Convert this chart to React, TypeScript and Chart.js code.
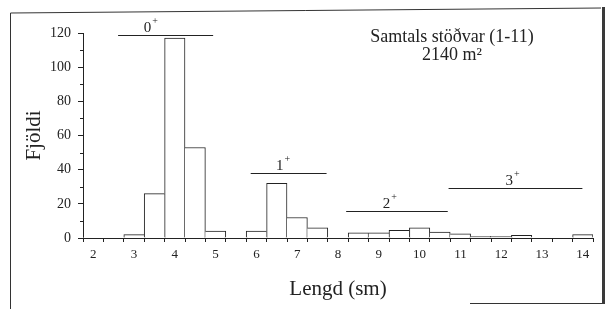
import React, { useEffect, useRef } from "react";
import { Chart, registerables } from "chart.js";

Chart.register(...registerables);

// Length bins (cm): each bin is 0.5 cm wide, labelled at integer values
const binCenters = [2, 2.5, 3, 3.5, 4, 4.5, 5, 5.5, 6, 6.5, 7, 7.5, 8, 8.5, 9, 9.5, 10, 10.5, 11, 11.5, 12, 12.5, 13, 13.5, 14];
const counts = [0, 0, 2, 26, 117, 53, 4, 0, 4, 32, 12, 6, 0, 3, 3, 4.5, 6, 3.5, 2.5, 1, 1, 1.5, 0, 0, 2];

const yTicks = [0, 20, 40, 60, 80, 100, 120];

// Age-group marker lines (in cm along x, count level along y)
const groupNames = ["0", "1", "2", "3"];
const groupStart = [2.61, 5.86, 8.2, 10.71];
const groupEnd = [4.94, 7.72, 10.69, 13.99];
const groupLevel = [118.7, 37.9, 16.0, 29.3];
const groupLabelX = [3.33, 6.57, 9.19, 12.2];

const titleLine1 = "Samtals stöðvar (1-11)";
const titleLine2 = "2140 m²";

const SERIF = '"Liberation Serif", "Times New Roman", serif';
const INK = "#222";

// convert a length in cm to a fractional category index
const cmToIndex = (cm: number) => (cm - binCenters[0]) / (binCenters[1] - binCenters[0]);

const decorPlugin = {
  id: "decor",
  afterDraw(chart: any) {
    const ctx = chart.ctx;
    const y = chart.scales.y;
    const x = chart.scales.x;
    ctx.save();
    // minor y ticks
    ctx.strokeStyle = INK;
    ctx.lineWidth = 1;
    for (let v = 10; v < 120; v += 20) {
      const py = Math.round(y.getPixelForValue(v)) + 0.5;
      ctx.beginPath();
      ctx.moveTo(y.right - 3, py);
      ctx.lineTo(y.right, py);
      ctx.stroke();
    }
    // group lines and labels with superscript plus
    ctx.fillStyle = INK;
    for (let i = 0; i < groupNames.length; i++) {
      const ly = Math.round(y.getPixelForValue(groupLevel[i])) + 0.5;
      ctx.beginPath();
      ctx.moveTo(x.getPixelForValue(cmToIndex(groupStart[i])), ly);
      ctx.lineTo(x.getPixelForValue(cmToIndex(groupEnd[i])), ly);
      ctx.stroke();
      const px = x.getPixelForValue(cmToIndex(groupLabelX[i]));
      const py = ly - 3.5;
      ctx.font = `15px ${SERIF}`;
      ctx.textAlign = "center";
      ctx.textBaseline = "alphabetic";
      ctx.fillText(groupNames[i], px, py);
      const w = ctx.measureText(groupNames[i]).width;
      ctx.font = `10px ${SERIF}`;
      ctx.textAlign = "left";
      ctx.fillText("+", px + w / 2 + 1, py - 8);
    }
    // annotation text
    ctx.font = `18px ${SERIF}`;
    ctx.textAlign = "center";
    ctx.fillText(titleLine1, 452, 42);
    ctx.fillText(titleLine2, 452, 60);
    // frame (scanned page border)
    ctx.strokeStyle = "#333";
    ctx.lineWidth = 1;
    ctx.beginPath();
    ctx.moveTo(10.5, 13);
    ctx.lineTo(601, 8);
    ctx.moveTo(10.5, 13);
    ctx.lineTo(10.5, 309);
    ctx.moveTo(470, 303.5);
    ctx.lineTo(602, 303.5);
    ctx.stroke();
    ctx.fillStyle = "#3a3a3a";
    ctx.fillRect(602, 7, 3, 297);
    ctx.restore();
  },
};

export default function App() {
  const ref = useRef<HTMLCanvasElement | null>(null);
  useEffect(() => {
    document.body.style.margin = "0";
    const canvas = ref.current;
    if (!canvas) return;
    const chart = new Chart(canvas, {
      type: "bar",
      data: {
        labels: binCenters.map(String),
        datasets: [
          {
            data: counts,
            backgroundColor: "#fff",
            borderColor: INK,
            borderSkipped: false,
            categoryPercentage: 1,
            barPercentage: 1,
            borderWidth: (c: any) => {
              const i = c.dataIndex;
              const v = counts[i];
              if (!v) return 0;
              const prev = i > 0 ? counts[i - 1] : 0;
              const next = i < counts.length - 1 ? counts[i + 1] : 0;
              return { top: 1, bottom: 0, left: prev < v ? 1 : 0, right: next <= v ? 1 : 0 };
            },
          } as any,
        ],
      },
      options: {
        responsive: false,
        animation: false,
        layout: { padding: { top: 33, right: 13, bottom: 0, left: 0 } },
        plugins: { legend: { display: false }, tooltip: { enabled: false } },
        scales: {
          x: {
            type: "category",
            offset: true,
            grid: { offset: true, drawOnChartArea: false, drawTicks: true, tickLength: 4, color: INK },
            border: { display: true, color: INK, width: 1 },
            ticks: {
              autoSkip: false,
              maxRotation: 0,
              minRotation: 0,
              padding: 5,
              color: INK,
              font: { family: SERIF, size: 13 },
              callback: (_v: any, i: number) => (Number.isInteger(binCenters[i]) ? String(binCenters[i]) : ""),
            },
            title: { display: true, text: "Lengd (sm)", color: INK, font: { family: SERIF, size: 21 }, padding: { top: 0, bottom: 7 } },
            afterFit: (s: any) => {
              s.height = 71;
            },
          },
          y: {
            min: yTicks[0],
            max: yTicks[yTicks.length - 1],
            grid: {
              drawOnChartArea: false,
              drawTicks: true,
              tickLength: 5,
              tickColor: (c: any) => (c.tick && yTicks.includes(c.tick.value) ? INK : "rgba(0,0,0,0)"),
            },
            border: { display: true, color: INK, width: 1 },
            ticks: {
              stepSize: 10,
              padding: 7,
              color: INK,
              font: { family: SERIF, size: 14 },
              callback: (v: any) => (yTicks.includes(Number(v)) ? String(v) : ""),
            },
            title: { display: true, text: "Fjöldi", color: INK, font: { family: SERIF, size: 21 }, padding: { top: 22, bottom: 0 } },
            afterFit: (s: any) => {
              s.width = 83;
            },
          },
        },
      },
      plugins: [decorPlugin],
    } as any);
    return () => chart.destroy();
  }, []);
  return (
    <div style={{ width: 606, height: 309, background: "#fff" }}>
      <canvas ref={ref} width={606} height={309} style={{ display: "block" }} />
    </div>
  );
}
